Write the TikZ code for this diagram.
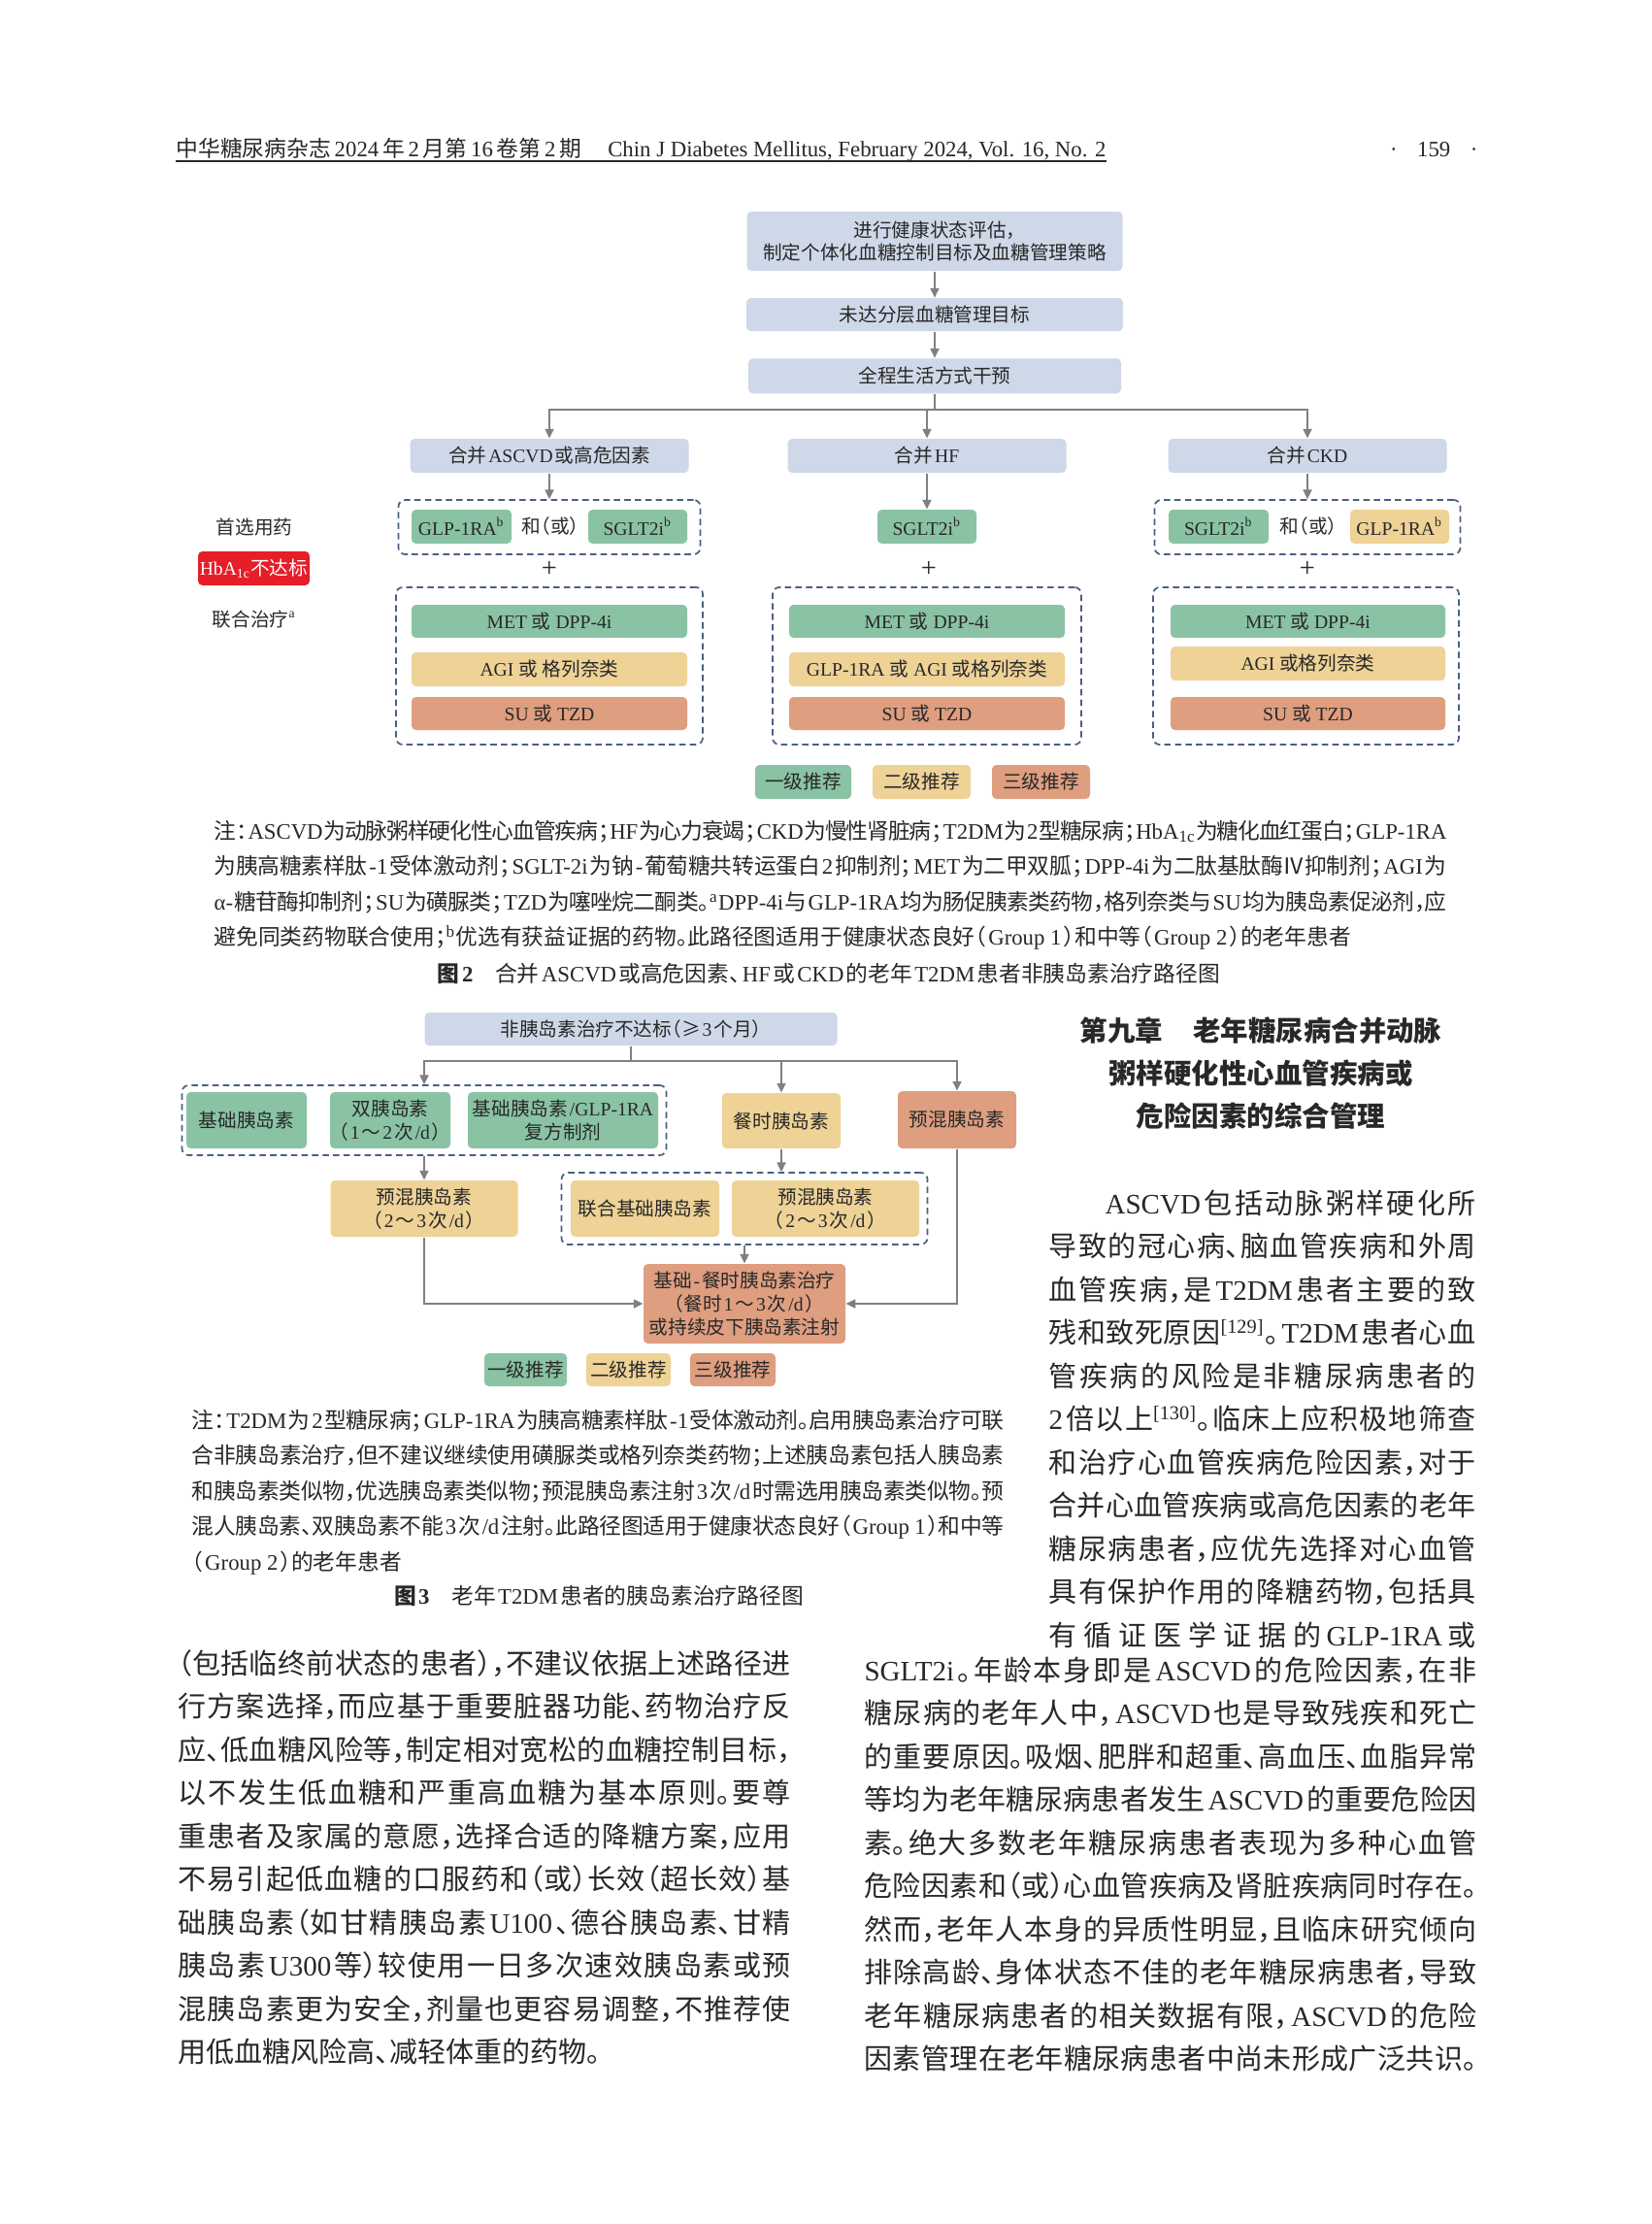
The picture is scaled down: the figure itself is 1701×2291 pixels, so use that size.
\documentclass[tikz,border=0pt]{standalone}
\usepackage{fontspec}
\usepackage{tikz}
\usetikzlibrary{arrows.meta, positioning}

\setmainfont{Liberation Serif}
\newfontfamily\cjk{Noto Sans CJK SC}[RawFeature=+halt]

% Chinese text: switch fonts between CJK and Latin runs
\XeTeXlinebreaklocale "zh"
\XeTeXlinebreakskip=0pt plus 4pt minus 0.6pt
\XeTeXlinebreakpenalty=10000
\newXeTeXintercharclass\cjkclass
\newcount\cjkcode
\newcommand\setcjkrange[2]{%
  \cjkcode=#1\relax
  \loop
    \XeTeXcharclass\cjkcode=\cjkclass
    \advance\cjkcode by 1
  \ifnum\cjkcode<#2\relax
  \repeat}
\setcjkrange{"3000}{"3040}
\setcjkrange{"4E00}{"A000}
\setcjkrange{"FF00}{"FFF0}
\setcjkrange{"2160}{"2180}
\XeTeXcharclass"2265=\cjkclass
\XeTeXinterchartoks 0 \cjkclass = {\nobreak\hskip0.1em plus 1.5pt minus 0.1em\relax\cjk}
\XeTeXinterchartoks 4095 \cjkclass = {\cjk}
\XeTeXinterchartoks \cjkclass 0 = {\rmfamily\nobreak\hskip0.1em plus 1.5pt minus 0.1em\relax}
\XeTeXinterchartoks \cjkclass 4095 = {\rmfamily}
\XeTeXinterchartokenstate=1

\definecolor{boxblue}{RGB}{207,216,232}
\definecolor{tiergreen}{RGB}{138,195,164}
\definecolor{tieryellow}{RGB}{238,210,150}
\definecolor{tierorange}{RGB}{222,158,127}
\definecolor{alertred}{RGB}{230,30,40}
\definecolor{dashblue}{RGB}{75,95,130}
\definecolor{flowgray}{RGB}{128,128,128}
\definecolor{inkgray}{RGB}{40,40,40}

\newlength\pu
\setlength\pu{0.35136pt}
\newcommand\figfont{\fontsize{6.9}{8.4}\selectfont}

\begin{document}
\begin{tikzpicture}[
      x=0.35136pt,
      y=-0.35136pt,
      flowbox/.style={
          rectangle,
          rounded corners=1.6pt,
          fill=boxblue,
          text=inkgray,
          align=center,
          inner sep=0pt,
          font=\figfont
        },
      tierone/.style={flowbox, fill=tiergreen},
      tiertwo/.style={flowbox, fill=tieryellow},
      tierthree/.style={flowbox, fill=tierorange},
      alertbox/.style={flowbox, fill=alertred, text=white},
      dashgroup/.style={
          draw=dashblue,
          dash pattern=on 2.3pt off 1.5pt,
          line width=0.6pt,
          rounded corners=2.4pt,
          inner sep=0pt
        },
      sidelabel/.style={
          text=inkgray,
          inner sep=0pt,
          font=\figfont
        },
      plussign/.style={
          text=inkgray,
          inner sep=0pt,
          font=\fontsize{10}{10}\selectfont
        },
      connector/.style={
          draw=flowgray,
          line width=0.5pt
        },
      arrow/.style={
          connector,
          -{Triangle[length=3.4pt, width=3.2pt]}
        },
      bodytext/.style={
          text=inkgray,
          inner sep=0pt,
          align=justify,
          anchor=base west,
          font=\fontsize{10.2}{15.64}\selectfont
        },
      notetext/.style={
          text=inkgray,
          inner sep=0pt,
          align=justify,
          anchor=base west,
          font=\fontsize{8}{12.85}\selectfont
        },
      captiontext/.style={
          text=inkgray,
          inner sep=0pt,
          anchor=base,
          font=\fontsize{8}{10}\selectfont
        }
    ]

    \fill[white] (0,0) rectangle (1701,2291);
    \useasboundingbox (0,0) rectangle (1701,2291);

    % Running head
    \node[captiontext, anchor=base west] (header) at (181,161)
      {中华糖尿病杂志\,2024\,年\,2\,月第\,16\,卷第\,2\,期\hspace{1.2em}Chin J Diabetes Mellitus, February 2024, Vol. 16, No. 2};
    \node[captiontext, anchor=base east] (folio) at (1523,161) {·\hspace{0.9em}159\hspace{0.9em}·};
    \draw[inkgray, line width=0.7pt] ([yshift=-1.8pt]header.base west) -- ([yshift=-1.8pt]header.base east);

    % Figure 2: nodes
    \node[flowbox, minimum width=387\pu, minimum height=61\pu] (assess) at (963,248.5)
      {进行健康状态评估，\\制定个体化血糖控制目标及血糖管理策略};
    \node[flowbox, minimum width=388\pu, minimum height=34\pu, below=27\pu of assess] (target) {未达分层血糖管理目标};
    \node[flowbox, minimum width=384\pu, minimum height=36\pu, below=27\pu of target] (lifestyle) {全程生活方式干预};
    \coordinate (split2) at (963,422);

    \node[flowbox, minimum width=287\pu, minimum height=35\pu] (withascvd) at (566,469.5) {合并ASCVD或高危因素};
    \node[flowbox, minimum width=287\pu, minimum height=35\pu] (withhf) at (955,469.5) {合并HF};
    \node[flowbox, minimum width=287\pu, minimum height=35\pu] (withckd) at (1347,469.5) {合并CKD};

    \node[dashgroup, minimum width=311\pu, minimum height=56\pu] (prefascvd) at (566,543) {};
    \node[tierone, minimum width=103\pu, minimum height=35\pu] (glpascvd) at (475.5,542.5) {GLP-1RA\textsuperscript{b}};
    \node[sidelabel] (andorascvd) at (567,542.5) {和（或）};
    \node[tierone, minimum width=102\pu, minimum height=35\pu] (sgltascvd) at (657,542.5) {SGLT2i\textsuperscript{b}};
    \node[tierone, minimum width=102\pu, minimum height=35\pu] (sglthf) at (955,542.5) {SGLT2i\textsuperscript{b}};
    \node[dashgroup, minimum width=315\pu, minimum height=56\pu] (prefckd) at (1347,543) {};
    \node[tierone, minimum width=103\pu, minimum height=35\pu] (sgltckd) at (1255.5,542.5) {SGLT2i\textsuperscript{b}};
    \node[sidelabel] (andorckd) at (1348,542.5) {和（或）};
    \node[tiertwo, minimum width=102\pu, minimum height=35\pu] (glpckd) at (1442,542.5) {GLP-1RA\textsuperscript{b}};

    \node[plussign] (plusascvd) at (566,586) {+};
    \node[plussign] (plushf) at (957,586) {+};
    \node[plussign] (plusckd) at (1347,586) {+};

    \node[dashgroup, minimum width=316\pu, minimum height=162\pu] (comboascvd) at (566,686) {};
    \node[dashgroup, minimum width=318\pu, minimum height=162\pu] (combohf) at (955,686) {};
    \node[dashgroup, minimum width=315\pu, minimum height=162\pu] (combockd) at (1345.5,686) {};

    \node[tierone, minimum width=284\pu, minimum height=34\pu] (metascvd) at (566,640) {MET 或 DPP-4i};
    \node[tiertwo, minimum width=284\pu, minimum height=35\pu] (agiascvd) at (566,689.5) {AGI 或 格列奈类};
    \node[tierthree, minimum width=284\pu, minimum height=34\pu] (suascvd) at (566,735) {SU 或 TZD};
    \node[tierone, minimum width=284\pu, minimum height=34\pu] (methf) at (955,640) {MET 或 DPP-4i};
    \node[tiertwo, minimum width=284\pu, minimum height=35\pu] (agihf) at (955,689.5) {GLP-1RA 或 AGI 或格列奈类};
    \node[tierthree, minimum width=284\pu, minimum height=34\pu] (suhf) at (955,735) {SU 或 TZD};
    \node[tierone, minimum width=283\pu, minimum height=34\pu] (metckd) at (1347.5,640) {MET 或 DPP-4i};
    \node[tiertwo, minimum width=283\pu, minimum height=35\pu] (agickd) at (1347.5,683.5) {AGI 或格列奈类};
    \node[tierthree, minimum width=283\pu, minimum height=34\pu] (suckd) at (1347.5,735) {SU 或 TZD};

    \node[sidelabel] (firstchoice) at (262,543) {首选用药};
    \node[alertbox, minimum width=115\pu, minimum height=35\pu] (hbafail) at (261.5,585.5) {HbA\textsubscript{1c}不达标};
    \node[sidelabel] (comboline) at (262,638) {联合治疗\textsuperscript{a}};

    \node[tierone, minimum width=99\pu, minimum height=35\pu] (levelone) at (827.5,805.5) {一级推荐};
    \node[tiertwo, minimum width=101\pu, minimum height=35\pu] (leveltwo) at (949.5,805.5) {二级推荐};
    \node[tierthree, minimum width=101\pu, minimum height=35\pu] (levelthree) at (1072.5,805.5) {三级推荐};

    % Figure 2: arrows
    \draw[arrow] (assess) -- (target);
    \draw[arrow] (target) -- (lifestyle);
    \draw[connector] (lifestyle) -- (split2);
    \draw[arrow] (split2) -| (withascvd);
    \draw[arrow] (split2) -| (withhf);
    \draw[arrow] (split2) -| (withckd);
    \draw[arrow] (withascvd) -- (prefascvd);
    \draw[arrow] (withhf) -- (sglthf);
    \draw[arrow] (withckd) -- (prefckd);

    % Figure 2: note and caption
    \node[notetext, text width=1270\pu] (fig2note) at (220,864)
      {注：ASCVD为动脉粥样硬化性心血管疾病；HF为心力衰竭；CKD为慢性肾脏病；T2DM为2型糖尿病；HbA\textsubscript{1c}为糖化血红蛋白；GLP-1RA\linebreak
      为胰高糖素样肽-1受体激动剂；SGLT-2i为钠-葡萄糖共转运蛋白2抑制剂；MET为二甲双胍；DPP-4i为二肽基肽酶Ⅳ抑制剂；AGI为\linebreak
      α-糖苷酶抑制剂；SU为磺脲类；TZD为噻唑烷二酮类。\textsuperscript{a}DPP-4i与GLP-1RA均为肠促胰素类药物，格列奈类与SU均为胰岛素促泌剂，应\linebreak
      避免同类药物联合使用；\textsuperscript{b}优选有获益证据的药物。此路径图适用于健康状态良好（Group~1）和中等（Group~2）的老年患者};
    \node[captiontext] (fig2caption) at (854,1011)
      {\textbf{图2}\hspace{1em}合并ASCVD或高危因素、HF或CKD的老年T2DM患者非胰岛素治疗路径图};

    % Figure 3: nodes
    \node[flowbox, minimum width=425\pu, minimum height=34\pu] (insfail) at (650,1060) {非胰岛素治疗不达标（≥3个月）};
    \coordinate (split3) at (650,1093);

    \node[dashgroup, minimum width=499\pu, minimum height=72\pu] (basalgroup) at (437,1154) {};
    \node[tierone, minimum width=124\pu, minimum height=58\pu] (basal) at (254,1154) {基础胰岛素};
    \node[tierone, minimum width=124\pu, minimum height=58\pu] (dualins) at (402,1154) {双胰岛素\\（1～2次/d）};
    \node[tierone, minimum width=196\pu, minimum height=58\pu] (fixedcombo) at (580,1154) {基础胰岛素/GLP-1RA\\复方制剂};
    \node[tiertwo, minimum width=122\pu, minimum height=57\pu] (prandial) at (805,1154.5) {餐时胰岛素};
    \node[tierthree, minimum width=122\pu, minimum height=59\pu] (premixthree) at (986,1153.5) {预混胰岛素};

    \node[tiertwo, minimum width=193\pu, minimum height=58\pu] (premixtwice) at (437,1245) {预混胰岛素\\（2～3次/d）};
    \node[dashgroup, minimum width=377\pu, minimum height=74\pu] (combogroup) at (767,1245) {};
    \node[tiertwo, minimum width=153\pu, minimum height=58\pu] (basalplus) at (664.5,1245) {联合基础胰岛素};
    \node[tiertwo, minimum width=193\pu, minimum height=58\pu] (premixplus) at (850.5,1245) {预混胰岛素\\（2～3次/d）};

    \node[tierthree, minimum width=208\pu, minimum height=82\pu] (basalbolus) at (767,1343)
      {基础-餐时胰岛素治疗\\（餐时1～3次/d）\\或持续皮下胰岛素注射};

    \node[tierone, minimum width=85\pu, minimum height=34\pu] (levelone3) at (541.5,1411) {一级推荐};
    \node[tiertwo, minimum width=87\pu, minimum height=34\pu] (leveltwo3) at (647.5,1411) {二级推荐};
    \node[tierthree, minimum width=88\pu, minimum height=34\pu] (levelthree3) at (755,1411) {三级推荐};

    % Figure 3: arrows
    \draw[connector] (insfail) -- (split3);
    \draw[arrow] (split3) -| (basalgroup);
    \draw[arrow] (split3) -| (prandial);
    \draw[arrow] (split3) -| (premixthree);
    \draw[arrow] (basalgroup) -- (premixtwice);
    \draw[arrow] (prandial) -- (prandial |- combogroup.north);
    \draw[arrow] (combogroup) -- (basalbolus);
    \draw[arrow] (premixtwice) |- (basalbolus);
    \draw[arrow] (premixthree) |- (basalbolus);

    % Figure 3: note and caption
    \node[notetext, text width=837\pu] (fig3note) at (197,1471)
      {注：T2DM为2型糖尿病；GLP-1RA为胰高糖素样肽-1受体激动剂。启用胰岛素治疗可联\linebreak
      合非胰岛素治疗，但不建议继续使用磺脲类或格列奈类药物；上述胰岛素包括人胰岛素\linebreak
      和胰岛素类似物，优选胰岛素类似物；预混胰岛素注射3次/d时需选用胰岛素类似物。预\linebreak
      混人胰岛素、双胰岛素不能3次/d注射。此路径图适用于健康状态良好（Group~1）和中等\linebreak
      （Group~2）的老年患者};
    \node[captiontext] (fig3caption) at (617,1652)
      {\textbf{图3}\hspace{1em}老年T2DM患者的胰岛素治疗路径图};

    % Chapter heading
    \node[text=inkgray, inner sep=0pt, anchor=base, align=flush center, text width=560\pu,
      font=\fontsize{10}{15.5}\selectfont\bfseries] (chapter) at (1299,1072)
      {第九章\hspace{1.1em}老年糖尿病合并动脉\\粥样硬化性心血管疾病或\\危险因素的综合管理};

    % Body text
    \node[bodytext, text width=631\pu] (leftcol) at (183,1724)
      {（包括临终前状态的患者），不建议依据上述路径进\linebreak
      行方案选择，而应基于重要脏器功能、药物治疗反\linebreak
      应、低血糖风险等，制定相对宽松的血糖控制目标，\linebreak
      以不发生低血糖和严重高血糖为基本原则。要尊\linebreak
      重患者及家属的意愿，选择合适的降糖方案，应用\linebreak
      不易引起低血糖的口服药和（或）长效（超长效）基\linebreak
      础胰岛素（如甘精胰岛素U100、德谷胰岛素、甘精\linebreak
      胰岛素U300等）较使用一日多次速效胰岛素或预\linebreak
      混胰岛素更为安全，剂量也更容易调整，不推荐使\linebreak
      用低血糖风险高、减轻体重的药物。};

    \node[bodytext, text width=440\pu] (rightcoltop) at (1080,1250)
      {\hspace*{2em}ASCVD包括动脉粥样硬化所\linebreak
      导致的冠心病、脑血管疾病和外周\linebreak
      血管疾病，是T2DM患者主要的致\linebreak
      残和致死原因\textsuperscript{[129]}。T2DM患者心血\linebreak
      管疾病的风险是非糖尿病患者的\linebreak
      2倍以上\textsuperscript{[130]}。临床上应积极地筛查\linebreak
      和治疗心血管疾病危险因素，对于\linebreak
      合并心血管疾病或高危因素的老年\linebreak
      糖尿病患者，应优先选择对心血管\linebreak
      具有保护作用的降糖药物，包括具\linebreak
      有循证医学证据的GLP-1RA或\parfillskip=0pt\par};

    \node[bodytext, text width=631\pu] (rightcolbottom) at (890,1731)
      {SGLT2i。年龄本身即是ASCVD的危险因素，在非\linebreak
      糖尿病的老年人中，ASCVD也是导致残疾和死亡\linebreak
      的重要原因。吸烟、肥胖和超重、高血压、血脂异常\linebreak
      等均为老年糖尿病患者发生ASCVD的重要危险因\linebreak
      素。绝大多数老年糖尿病患者表现为多种心血管\linebreak
      危险因素和（或）心血管疾病及肾脏疾病同时存在。\linebreak
      然而，老年人本身的异质性明显，且临床研究倾向\linebreak
      排除高龄、身体状态不佳的老年糖尿病患者，导致\linebreak
      老年糖尿病患者的相关数据有限，ASCVD的危险\linebreak
      因素管理在老年糖尿病患者中尚未形成广泛共识。\parfillskip=0pt\par};
  \end{tikzpicture}
\end{document}
